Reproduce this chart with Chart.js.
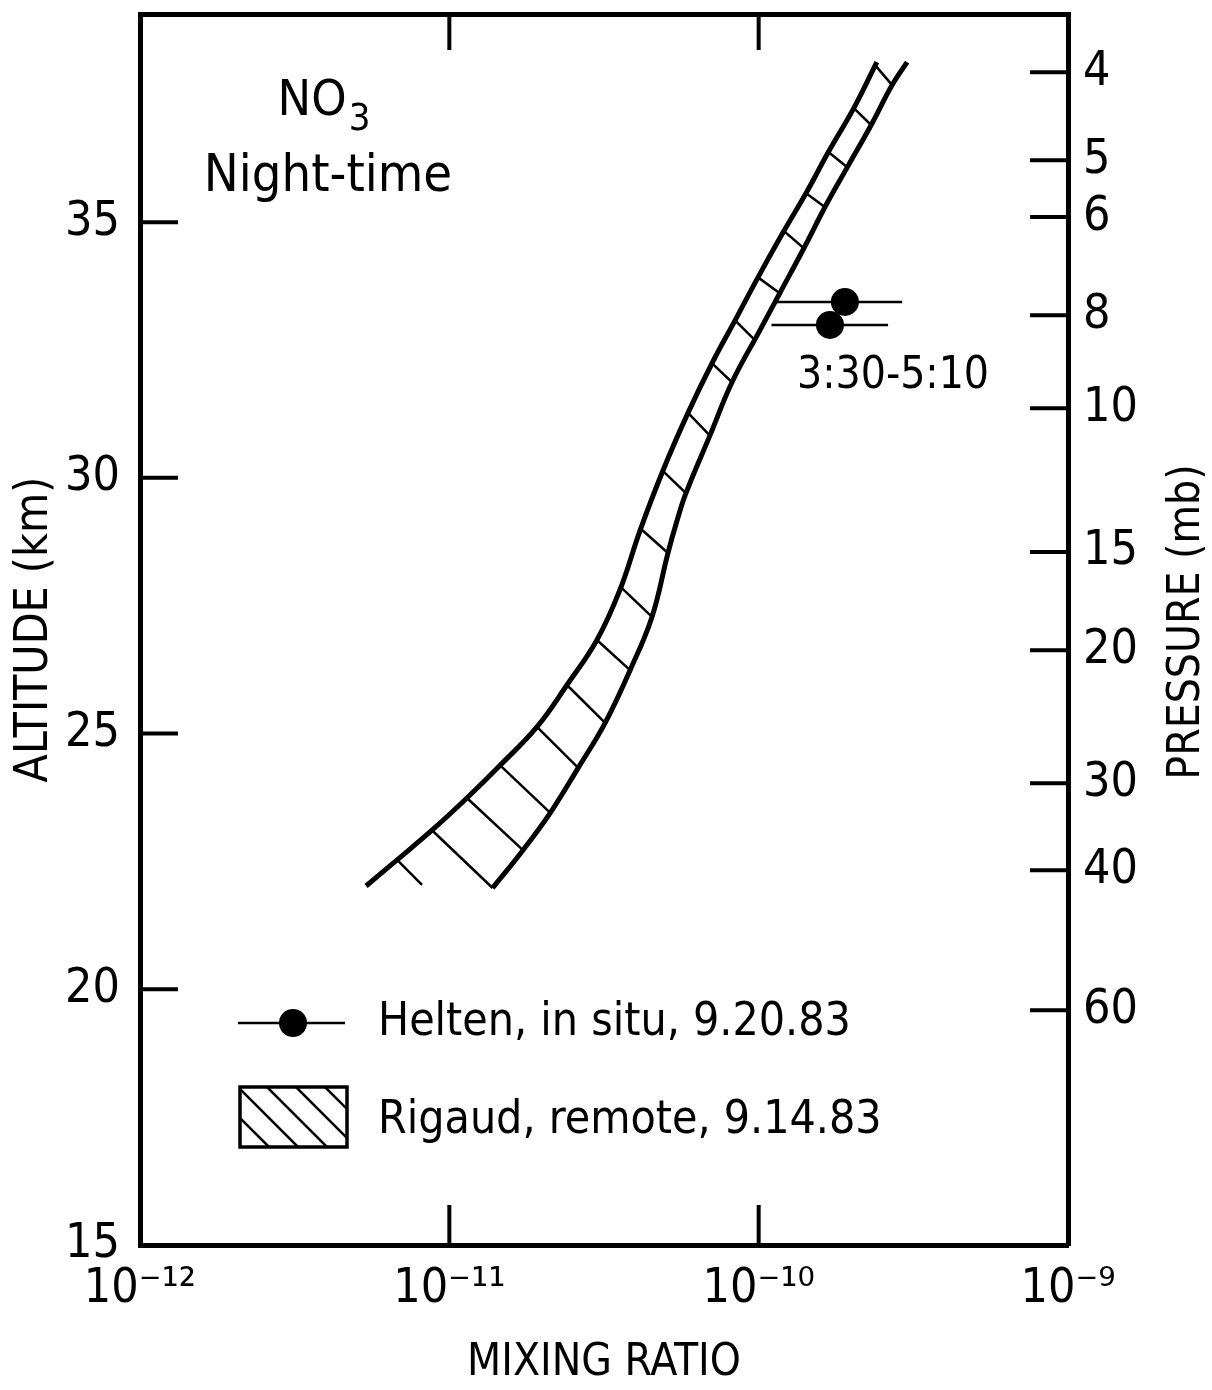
<!DOCTYPE html>
<html lang="en">
<head>
<meta charset="UTF-8">
<title>NO3 Night-time</title>
<script src="https://cdn.jsdelivr.net/npm/chart.js@4.4.1/dist/chart.umd.min.js"></script>
<style>
  body { margin: 0; background: #fff; }
  #wrap { width: 1212px; height: 1390px; position: relative; }
</style>
</head>
<body>
<div id="wrap"><canvas id="myChart"></canvas></div>
<script>
// Rigaud, remote: left and right edge of the band (mixing ratio, altitude in km)
const rigaudLeftRatio = [5.38e-12, 6.78e-12, 8.79e-12, 1.14e-11, 1.46e-11, 1.92e-11, 2.40e-11, 3.00e-11, 3.56e-11, 4.14e-11,
                         4.91e-11, 5.91e-11, 7.12e-11, 8.39e-11, 9.95e-11, 1.21e-10, 1.43e-10, 1.68e-10, 2.03e-10, 2.41e-10];
const rigaudLeftAlt = [22.02, 22.53, 23.11, 23.74, 24.38, 25.13, 25.95, 26.83, 27.81, 28.98,
                       30.15, 31.27, 32.28, 33.08, 33.92, 34.84, 35.59, 36.37, 37.23, 38.13];
const rigaudRightRatio = [1.38e-11, 1.73e-11, 2.12e-11, 2.61e-11, 3.19e-11, 3.84e-11, 4.52e-11, 5.09e-11, 5.45e-11, 5.82e-11,
                          6.97e-11, 8.20e-11, 1.01e-10, 1.17e-10, 1.40e-10, 1.65e-10, 1.95e-10, 2.33e-10, 2.70e-10, 3.02e-10];
const rigaudRightAlt = [21.98, 22.72, 23.45, 24.33, 25.21, 26.24, 27.28, 28.53, 29.17, 29.70,
                        30.84, 31.87, 32.89, 33.61, 34.49, 35.33, 36.11, 36.94, 37.68, 38.13];

// hatch strokes across the band (from left edge to right edge)
const hatchFromRatio = [6.78e-12, 8.79e-12, 1.14e-11, 1.46e-11, 1.92e-11, 2.40e-11, 3.00e-11, 3.62e-11, 4.20e-11, 4.87e-11,
                        5.87e-11, 7.07e-11, 8.39e-11, 9.95e-11, 1.20e-10, 1.42e-10, 1.68e-10, 2.03e-10, 2.38e-10];
const hatchFromAlt = [22.53, 23.11, 23.74, 24.38, 25.13, 25.95, 26.83, 27.84, 28.98, 30.15,
                      31.29, 32.24, 33.08, 33.92, 34.84, 35.57, 36.37, 37.23, 38.07];
const hatchToRatio = [8.16e-12, 1.38e-11, 1.73e-11, 2.12e-11, 2.61e-11, 3.19e-11, 3.84e-11, 4.52e-11, 5.09e-11, 5.82e-11,
                      6.97e-11, 8.20e-11, 9.74e-11, 1.17e-10, 1.40e-10, 1.64e-10, 1.93e-10, 2.31e-10, 2.70e-10];
const hatchToAlt = [22.04, 21.98, 22.72, 23.45, 24.33, 25.21, 26.24, 27.28, 28.53, 29.70,
                    30.82, 31.87, 32.69, 33.61, 34.49, 35.29, 36.08, 36.90, 37.68];

// Helten, in situ: points and their horizontal range
const heltenRatio = [1.90e-10, 1.70e-10];
const heltenAlt = [33.44, 32.99];
const heltenLow = [1.14e-10, 1.10e-10];
const heltenHigh = [2.91e-10, 2.62e-10];

// axes
const ratioTicks = [1e-12, 1e-11, 1e-10, 1e-9];
const altitudeTicks = [15, 20, 25, 30, 35];
const pressureLabels = ['4', '5', '6', '8', '10', '15', '20', '30', '40', '60'];
const pressureAlt = [37.93, 36.21, 35.10, 33.18, 31.36, 28.55, 26.63, 24.03, 22.33, 19.59];
const altMin = 15, altMax = 39.07;

const FONT = "'DejaVu Sans Condensed', 'DejaVu Sans', sans-serif";
Chart.defaults.font.family = FONT;
Chart.defaults.color = '#000';

const supMap = {'-': '\u207B', '0': '\u2070', '1': '\u00B9', '2': '\u00B2', '3': '\u00B3', '4': '\u2074',
                '5': '\u2075', '6': '\u2076', '7': '\u2077', '8': '\u2078', '9': '\u2079'};
function powerLabel(v) {
    let e = String(Math.round(Math.log10(v)));
    return '10' + e.split('').map(c => supMap[c]).join('');
}

function pts(xs, ys) { return xs.map((x, i) => ({x: x, y: ys[i]})); }

let datasets = [];
datasets.push({ data: pts(rigaudLeftRatio, rigaudLeftAlt), showLine: true, borderColor: '#000',
                borderWidth: 5, pointRadius: 0, tension: 0.4 });
datasets.push({ data: pts(rigaudRightRatio, rigaudRightAlt), showLine: true, borderColor: '#000',
                borderWidth: 5, pointRadius: 0, tension: 0.4 });
for (let i = 0; i < hatchFromRatio.length; i++) {
    datasets.push({ data: [{x: hatchFromRatio[i], y: hatchFromAlt[i]}, {x: hatchToRatio[i], y: hatchToAlt[i]}],
                    showLine: true, borderColor: '#000', borderWidth: 2.5, pointRadius: 0 });
}
for (let i = 0; i < heltenRatio.length; i++) {
    datasets.push({ data: [{x: heltenLow[i], y: heltenAlt[i]}, {x: heltenHigh[i], y: heltenAlt[i]}],
                    showLine: true, borderColor: '#000', borderWidth: 2.5, pointRadius: 0 });
}
datasets.push({ data: pts(heltenRatio, heltenAlt), showLine: false, pointRadius: 14,
                backgroundColor: '#000', borderColor: '#000', borderWidth: 0 });

// tick marks pointing into the plot
const inwardTicks = {
    id: 'inwardTicks',
    afterDraw(chart) {
        const {ctx, chartArea: a, scales} = chart;
        ctx.save();
        ctx.strokeStyle = '#000';
        ctx.lineWidth = 4;
        ctx.beginPath();
        scales.x.ticks.forEach(t => {
            if (t.value <= scales.x.min || t.value >= scales.x.max) return;
            const px = scales.x.getPixelForValue(t.value);
            ctx.moveTo(px, a.bottom); ctx.lineTo(px, a.bottom - 40);
            ctx.moveTo(px, a.top); ctx.lineTo(px, a.top + 36);
        });
        scales.y.ticks.forEach(t => {
            if (t.value <= altMin) return;
            const py = scales.y.getPixelForValue(t.value);
            ctx.moveTo(a.left, py); ctx.lineTo(a.left + 38, py);
        });
        scales.yP.ticks.forEach(t => {
            const py = scales.yP.getPixelForValue(t.value);
            ctx.moveTo(a.right, py); ctx.lineTo(a.right - 38, py);
        });
        ctx.stroke();
        ctx.restore();
    }
};

// free text, legend and the right axis title
const annotations = {
    id: 'annotations',
    afterDraw(chart) {
        const ctx = chart.ctx;
        ctx.save();
        ctx.fillStyle = '#000';
        ctx.strokeStyle = '#000';
        ctx.textBaseline = 'alphabetic';

        // NO3 / Night-time
        ctx.textAlign = 'left';
        ctx.font = '50px ' + FONT;
        const noW = ctx.measureText('NO').width;
        ctx.font = '38px ' + FONT;
        const subW = ctx.measureText('3').width;
        const x0 = 324 - (noW + subW + 2) / 2;
        ctx.font = '50px ' + FONT;
        ctx.fillText('NO', x0, 115);
        ctx.font = '38px ' + FONT;
        ctx.fillText('3', x0 + noW + 2, 130);
        ctx.textAlign = 'center';
        ctx.font = '52px ' + FONT;
        ctx.fillText('Night-time', 328, 191);

        // time label next to the Helten points
        ctx.textAlign = 'left';
        ctx.font = '44px ' + FONT;
        ctx.fillText('3:30-5:10', 797, 388);

        // legend
        ctx.lineWidth = 2.5;
        ctx.beginPath();
        ctx.moveTo(238, 1023); ctx.lineTo(345, 1023);
        ctx.stroke();
        ctx.beginPath();
        ctx.arc(293, 1023, 14, 0, Math.PI * 2);
        ctx.fill();
        ctx.font = '46px ' + FONT;
        ctx.fillText('Helten, in situ, 9.20.83', 378, 1035);

        const bx = 240, by = 1087, bw = 107, bh = 60;
        ctx.save();
        ctx.beginPath();
        ctx.rect(bx, by, bw, bh);
        ctx.clip();
        ctx.lineWidth = 2.5;
        ctx.beginPath();
        for (let k = -bh; k < bw; k += 29) {
            ctx.moveTo(bx + k, by); ctx.lineTo(bx + k + bh, by + bh);
        }
        ctx.stroke();
        ctx.restore();
        ctx.lineWidth = 3.5;
        ctx.strokeRect(bx, by, bw, bh);
        ctx.fillText('Rigaud, remote, 9.14.83', 378, 1133);

        // right axis title, read bottom to top
        ctx.translate(1188, 622);
        ctx.rotate(-Math.PI / 2);
        ctx.textAlign = 'center';
        ctx.textBaseline = 'middle';
        ctx.font = '44px ' + FONT;
        ctx.fillText('PRESSURE (mb)', 0, 0);
        ctx.restore();
    }
};

const axisGrid = { display: true, drawOnChartArea: false, drawTicks: false };
const axisBorder = { display: true, color: '#000', width: 5 };

// fixed box sizes so the plot frame sits where the reference has it
function fixWidth(w) {
    return s => { s.width = w; s.paddingTop = 0; s.paddingBottom = 0; };
}
function fixHeight(h) {
    return s => { s.height = h; s.paddingLeft = 0; s.paddingRight = 0; };
}

window.onload = function() {
    let ctx = document.getElementById('myChart').getContext('2d');
    new Chart(ctx, {
        type: 'scatter',
        data: { datasets: datasets },
        options: {
            responsive: true,
            maintainAspectRatio: false,
            animation: false,
            layout: { padding: 0 },
            plugins: { legend: { display: false }, tooltip: { enabled: false } },
            scales: {
                x: {
                    type: 'logarithmic', position: 'bottom', min: 1e-12, max: 1e-9,
                    grid: axisGrid, border: axisBorder,
                    afterBuildTicks: s => { s.ticks = ratioTicks.map(v => ({ value: v })); },
                    afterFit: fixHeight(145),
                    ticks: { autoSkip: false, maxRotation: 0, padding: 16, font: { size: 48 },
                             callback: v => powerLabel(v) },
                    title: { display: true, text: 'MIXING RATIO', font: { size: 44 }, padding: 0 }
                },
                xTop: {
                    type: 'logarithmic', position: 'top', min: 1e-12, max: 1e-9,
                    grid: axisGrid, border: axisBorder,
                    afterBuildTicks: s => { s.ticks = ratioTicks.map(v => ({ value: v })); },
                    afterFit: fixHeight(14),
                    ticks: { display: false }
                },
                y: {
                    type: 'linear', position: 'left', min: altMin, max: altMax,
                    grid: axisGrid, border: axisBorder,
                    afterBuildTicks: s => { s.ticks = altitudeTicks.map(v => ({ value: v })); },
                    afterFit: fixWidth(140),
                    ticks: { autoSkip: false, padding: 20, font: { size: 48 } },
                    title: { display: true, text: 'ALTITUDE (km)', font: { size: 46 }, padding: { top: 7 } }
                },
                yP: {
                    type: 'linear', position: 'right', min: altMin, max: altMax,
                    grid: axisGrid, border: axisBorder,
                    afterBuildTicks: s => { s.ticks = pressureAlt.map(v => ({ value: v })); },
                    afterFit: fixWidth(144),
                    ticks: { autoSkip: false, padding: 15, font: { size: 48 },
                             callback: (v, i) => pressureLabels[i] }
                }
            }
        },
        plugins: [inwardTicks, annotations]
    });
};
</script>
</body>
</html>
